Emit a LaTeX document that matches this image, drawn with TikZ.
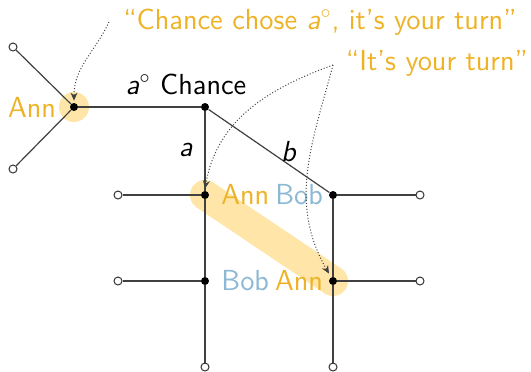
\documentclass[tikz,border=0pt]{standalone}
\usepackage{fontspec}
\usepackage{xcolor}
\usetikzlibrary{arrows.meta,positioning,backgrounds}
\definecolor{annc}{RGB}{238,178,38}
\definecolor{bobc}{RGB}{140,184,212}
\definecolor{hlc}{RGB}{255,229,168}

\begin{document}
\begin{tikzpicture}[x=0.5pt,y=-0.5pt,font=\sffamily\fontsize{14.5}{17}\selectfont,
 dec/.style={circle,fill=black,inner sep=0pt,minimum size=4pt},
 leaf/.style={circle,draw=black!80,fill=white,line width=0.5pt,inner sep=0pt,minimum size=4pt},
 edge/.style={draw=black!75,line width=0.6pt},
 hint/.style={densely dotted,black!75,line width=0.5pt,-{Stealth[length=4pt,width=3.5pt]}},
 hl/.style={line width=15pt,line cap=round,draw=hlc}]
\useasboundingbox (0,0) rectangle (531,371);
% decision nodes
\node[dec] (ann) at (74,107) {};
\node[dec] (chance) at (205,107) {};
\node[dec] (na) at (205,195) {};
\node[dec] (nb) at (333,195) {};
\node[dec] (ma) at (205,281) {};
\node[dec] (mb) at (333,281) {};
% leaves
\node[leaf] (t1) at (13,47) {};
\node[leaf] (t2) at (13,169) {};
\node[leaf] (t3) at (118,195) {};
\node[leaf] (t4) at (420,195) {};
\node[leaf] (t5) at (118,281) {};
\node[leaf] (t6) at (420,281) {};
\node[leaf] (t7) at (205,367) {};
\node[leaf] (t8) at (333,367) {};
% edges
\begin{scope}[on background layer]
\fill[hlc] (ann) circle (15);
\draw[hl] (na.center) -- (mb.center);
\draw[edge] (ann) -- (t1);
\draw[edge] (ann) -- (t2);
\draw[edge] (ann) -- (chance);
\draw[edge] (chance) -- (na);
\draw[edge] (chance) -- (nb);
\draw[edge] (na) -- (t3);
\draw[edge] (na) -- (ma);
\draw[edge] (ma) -- (t5);
\draw[edge] (ma) -- (t7);
\draw[edge] (nb) -- (t4);
\draw[edge] (nb) -- (mb);
\draw[edge] (mb) -- (t6);
\draw[edge] (mb) -- (t8);
\end{scope}
% labels
\node[annc,anchor=east] (lann) at (63,107) {Ann};
\node (lchance) at (186,84) {\textsl{a}$^\circ$ Chance};
\node (la) at (186,150) {\textsl{a}};
\node (lb) at (289,152) {\textsl{b}};
\node[anchor=west,inner sep=1pt] (lna) at (219,195) {\textcolor{annc}{Ann}\hspace{3pt}\textcolor{bobc}{Bob}};
\node[anchor=west,inner sep=1pt] (lma) at (219,281) {\textcolor{bobc}{Bob}\hspace{3pt}\textcolor{annc}{Ann}};
% quotes
\node[annc] (q1) at (320,22) {“Chance chose \textsl{a}$^\circ$, it’s your turn”};
\node[annc] (q2) at (437,63) {“It’s your turn”};
\coordinate (s1) at (109,22);
\coordinate (s2) at (333,65);
\draw[hint] (s1) to[out=245,in=90] ([yshift=1pt]ann.north);
\draw[hint] (s2) to[out=200,in=80] ([yshift=1pt]na.north);
\draw[hint] (s2) to[out=255,in=120] ([xshift=-2pt,yshift=1.5pt]mb.north);
\end{tikzpicture}
\end{document}
